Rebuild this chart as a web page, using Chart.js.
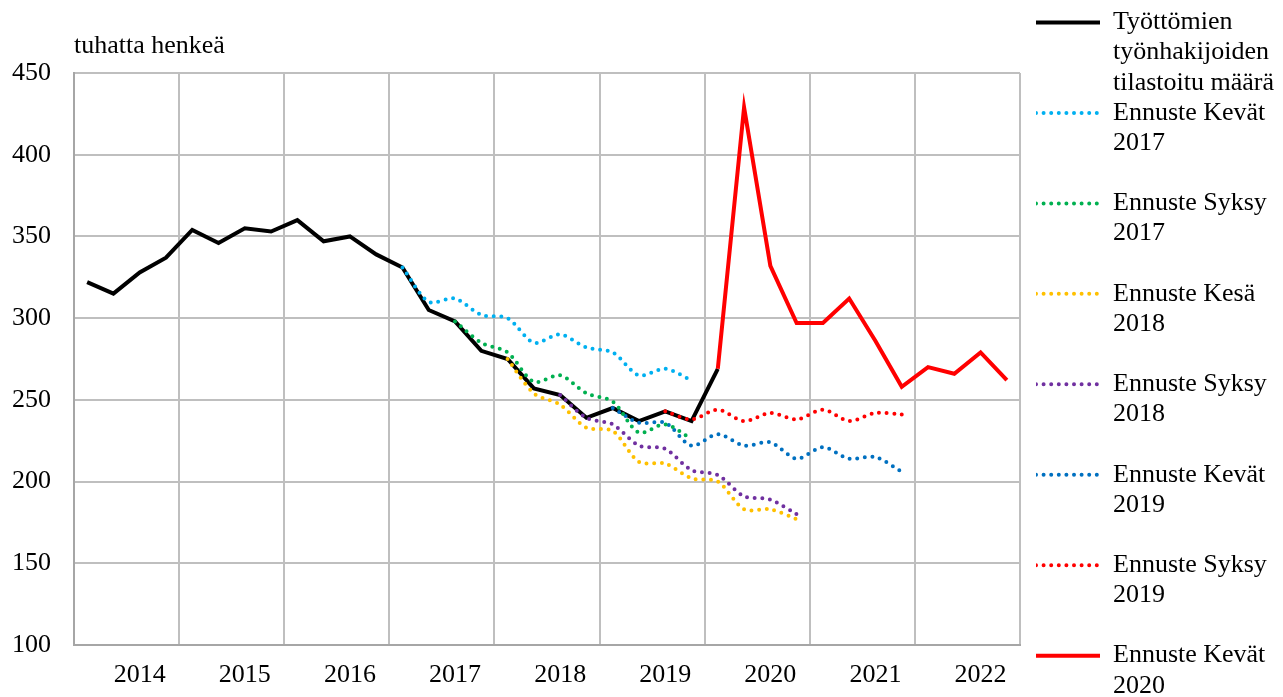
<!DOCTYPE html>
<html>
<head>
<meta charset="utf-8">
<script src="https://cdn.jsdelivr.net/npm/chart.js@4.4.1/dist/chart.umd.min.js"></script>
<style>
html,body{margin:0;padding:0;background:#fff;overflow:hidden}
canvas{display:block}
</style>
</head>
<body>
<canvas id="c" width="1283" height="697"></canvas>
<script>
// ---- categories (quarters 2014Q1 .. 2022Q4) ----
const quarters = [
  "2014Q1","2014Q2","2014Q3","2014Q4","2015Q1","2015Q2","2015Q3","2015Q4",
  "2016Q1","2016Q2","2016Q3","2016Q4","2017Q1","2017Q2","2017Q3","2017Q4",
  "2018Q1","2018Q2","2018Q3","2018Q4","2019Q1","2019Q2","2019Q3","2019Q4",
  "2020Q1","2020Q2","2020Q3","2020Q4","2021Q1","2021Q2","2021Q3","2021Q4",
  "2022Q1","2022Q2","2022Q3","2022Q4"
];
// ---- tick labels on the x axis ----
const yearTicks = [
  "","","2014","", "","","2015","", "","","2016","", "","","2017","",
  "","","2018","", "","","2019","", "","","2020","", "","","2021","",
  "","","2022",""
];
const yMin = 100, yMax = 450, yStep = 50;
const titleText = "tuhatta henkeä";

// ---- series (thousand persons) ----
const actual = [322,315,328,337,354,346,355,353,360,347,350,339,331,305,298,280,275,257,253,239,245,237,243,237,269,
  null,null,null,null,null,null,null,null,null,null,null];
const kevat2017 = [null,null,null,null,null,null,null,null,null,null,null,null,
  331,310,312,302,300,285,290,282,279,265,269,262,
  null,null,null,null,null,null,null,null,null,null,null,null];
const syksy2017 = [null,null,null,null,null,null,null,null,null,null,null,null,null,null,
  298,285,279,261,265,254,249,230,235,226,
  null,null,null,null,null,null,null,null,null,null,null,null];
const kesa2018 = [null,null,null,null,null,null,null,null,null,null,null,null,null,null,null,null,
  275,254,247,233,231,212,211,202,200,183,183,177,
  null,null,null,null,null,null,null,null];
const syksy2018 = [null,null,null,null,null,null,null,null,null,null,null,null,null,null,null,null,null,null,
  253,239,235,222,220,207,204,191,189,180,
  null,null,null,null,null,null,null,null];
const kevat2019 = [null,null,null,null,null,null,null,null,null,null,null,null,null,null,null,null,null,null,null,null,
  245,236,236,222,229,222,224,214,221,214,215,206,
  null,null,null,null];
const syksy2019 = [null,null,null,null,null,null,null,null,null,null,null,null,null,null,null,null,null,null,null,null,null,null,
  243,238,244,237,242,238,244,237,242,241,
  null,null,null,null];
const kevat2020 = [null,null,null,null,null,null,null,null,null,null,null,null,null,null,null,null,null,null,null,null,null,null,null,null,
  269,429,332,297,297,312,286,258,270,266,279,262];

// ---- legend labels ----
const lblActual = ["Työttömien","työnhakijoiden","tilastoitu määrä"];
const lblKevat2017 = ["Ennuste Kevät","2017",""];
const lblSyksy2017 = ["Ennuste Syksy","2017",""];
const lblKesa2018 = ["Ennuste Kesä","2018",""];
const lblSyksy2018 = ["Ennuste Syksy","2018",""];
const lblKevat2019 = ["Ennuste Kevät","2019",""];
const lblSyksy2019 = ["Ennuste Syksy","2019",""];
const lblKevat2020 = ["Ennuste Kevät","2020"];

const serif = '"Liberation Serif", "Times New Roman", serif';
Chart.defaults.font.family = serif;
Chart.defaults.color = '#000';

const FONT = 26;
const BOXW = 64;
const mctx = document.createElement('canvas').getContext('2d');
mctx.font = FONT + 'px "Liberation Serif"';
const longest = mctx.measureText("tilastoitu määrä").width;
const legendW = BOXW + FONT / 2 + longest + 10;
const padRight = 1283 - 1036 - legendW;

function dotted(label, data, color) {
  return {label, data, borderColor: color, backgroundColor: color, borderWidth: 4,
    borderDash: [0, 7.6], borderCapStyle: 'round', pointRadius: 0, tension: 0.3,
    fill: false, order: 1};
}

const datasets = [
  {label: lblActual, data: actual, borderColor: '#000000', backgroundColor: '#000000',
   borderWidth: 4, pointRadius: 0, tension: 0, fill: false, order: 10},
  dotted(lblKevat2017, kevat2017, '#00B0F0'),
  dotted(lblSyksy2017, syksy2017, '#00B050'),
  dotted(lblKesa2018, kesa2018, '#FFC000'),
  dotted(lblSyksy2018, syksy2018, '#7030A0'),
  dotted(lblKevat2019, kevat2019, '#0070C0'),
  dotted(lblSyksy2019, syksy2019, '#FF0000'),
  {label: lblKevat2020, data: kevat2020, borderColor: '#FF0000', backgroundColor: '#FF0000',
   borderWidth: 4, pointRadius: 0, tension: 0, fill: false, order: 0}
];

new Chart(document.getElementById('c'), {
  type: 'line',
  data: {labels: quarters, datasets},
  options: {
    responsive: false,
    animation: false,
    events: [],
    layout: {padding: {top: 9.5, right: padRight, bottom: -10, left: 0}},
    plugins: {
      tooltip: {enabled: false},
      title: {
        display: true, text: titleText, position: 'top', align: 'start', fullSize: false,
        color: '#000', font: {size: 26, weight: 'normal', lineHeight: 1.2},
        padding: {top: 20.9, bottom: 11.4}
      },
      legend: {
        position: 'right', align: 'start', maxWidth: 400,
        labels: {
          usePointStyle: true, pointStyle: 'line', pointStyleWidth: BOXW, padding: 0,
          font: {size: FONT, lineHeight: '30.15px'}, color: '#000',
          generateLabels: chart => chart.data.datasets.map((ds, i) => ({
            text: ds.label, fillStyle: ds.borderColor, strokeStyle: ds.borderColor,
            lineWidth: ds.borderWidth, lineDash: ds.borderDash || [],
            lineCap: ds.borderCapStyle || 'butt', lineJoin: 'miter',
            pointStyle: 'line', hidden: false, datasetIndex: i, fontColor: '#000'
          }))
        }
      }
    },
    scales: {
      x: {
        type: 'category', offset: true,
        grid: {
          offset: true, drawTicks: false, lineWidth: 2,
          color: c => (c.index === undefined || c.index % 4 === 0) ? '#bfbfbf' : 'rgba(0,0,0,0)'
        },
        border: {display: true, color: '#a6a6a6', width: 2},
        ticks: {autoSkip: false, maxRotation: 0, minRotation: 0, padding: 15,
          font: {size: FONT}, color: '#000',
          callback: (v, i) => yearTicks[i]},
        afterFit: s => { s.height = 62; }
      },
      y: {
        min: yMin, max: yMax,
        ticks: {stepSize: yStep, padding: 23, font: {size: FONT}, color: '#000'},
        grid: {drawTicks: false, color: '#bfbfbf', lineWidth: 2},
        border: {display: true, color: '#a6a6a6', width: 2},
        afterFit: s => { s.width = 74; }
      },
      yR: {
        type: 'linear', position: 'right', display: true,
        grid: {display: false}, border: {display: false}, ticks: {display: false},
        afterFit: s => { s.width = 16; }
      }
    }
  }
});
</script>
</body>
</html>
